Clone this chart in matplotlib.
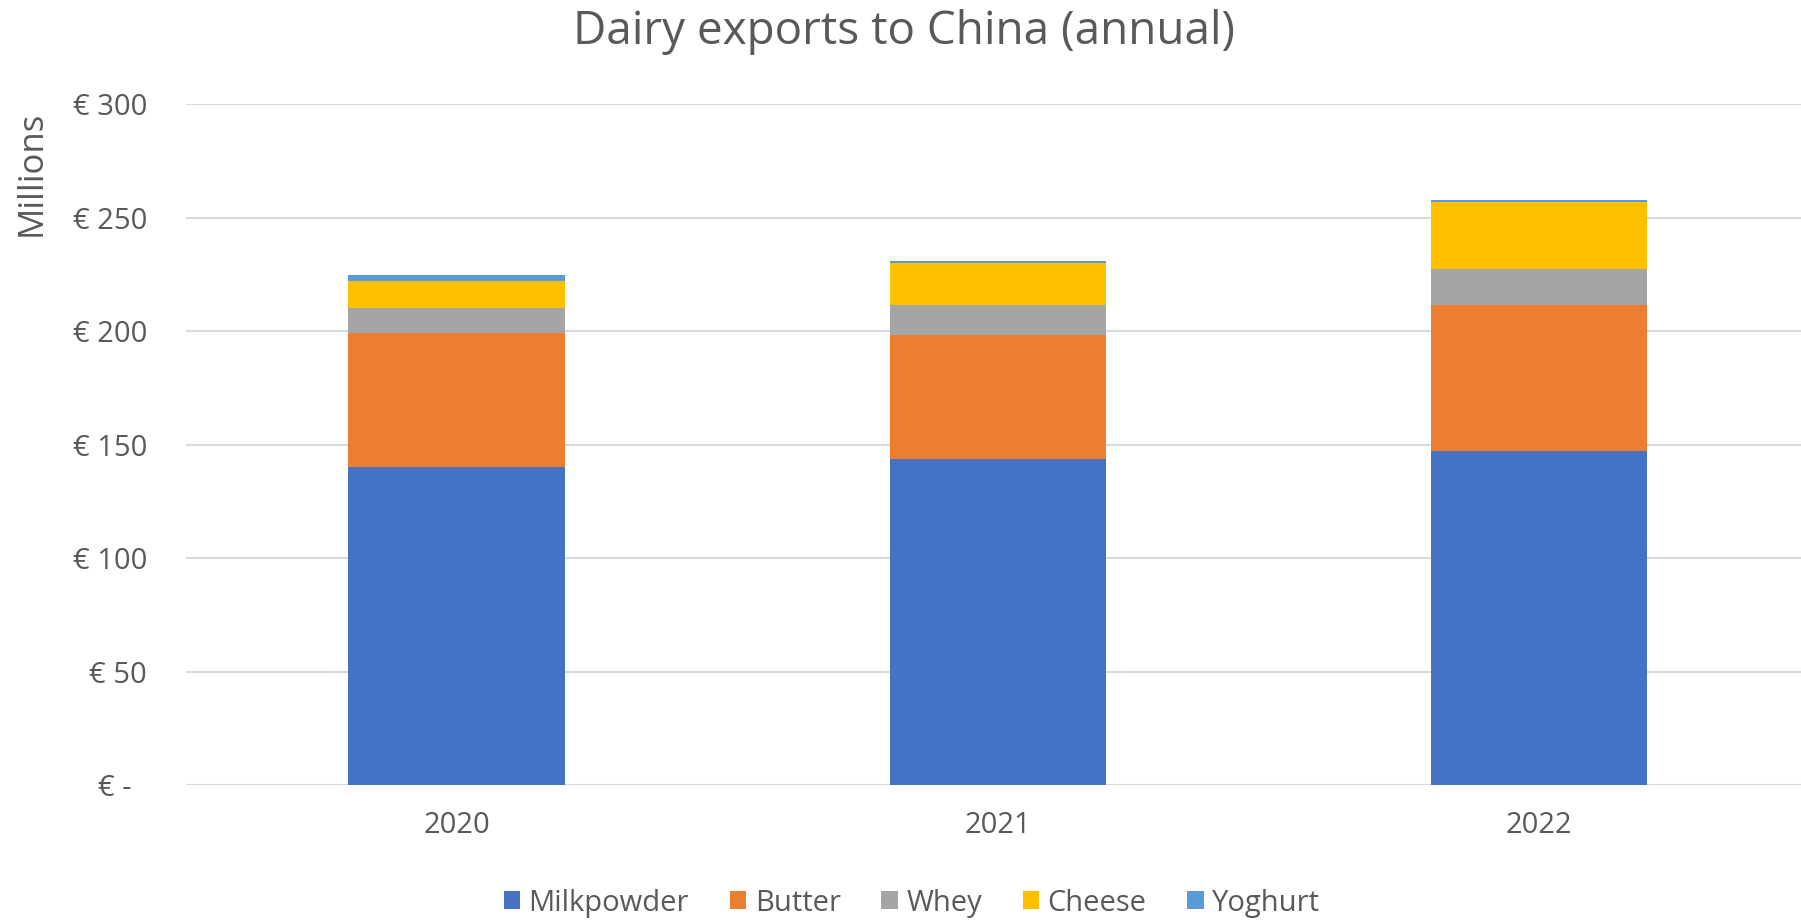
import matplotlib
matplotlib.use("Agg")
import matplotlib.pyplot as plt
import numpy as np

years = ["2020", "2021", "2022"]
series_names = ["Milkpowder", "Butter", "Whey", "Cheese", "Yoghurt"]
milkpowder = [140.3, 143.5, 147.4]
butter = [58.8, 54.7, 64.4]
whey = [11.2, 13.6, 15.8]
cheese = [11.9, 18.2, 29.3]
yoghurt = [2.5, 0.9, 0.9]
colors = ["#4472C4", "#ED7D31", "#A5A5A5", "#FFC000", "#5B9BD5"]
yticks = [0, 50, 100, 150, 200, 250, 300]
ytick_labels = ["€ -  ", "€ 50", "€ 100", "€ 150", "€ 200", "€ 250", "€ 300"]

plt.rcParams['font.family'] = ['Open Sans', 'DejaVu Sans']
txt = "#595959"

fig = plt.figure(figsize=(18.01, 9.22), dpi=100)
W, H = 1801, 922
left, right, bottom, top = 186, 1809.5, 785, 104.5
ax = fig.add_axes([left / W, (H - bottom) / H, (right - left) / W, (bottom - top) / H])

x = np.arange(len(years))
base = np.zeros(len(years))
for name, vals, c in zip(series_names, [milkpowder, butter, whey, cheese, yoghurt], colors):
    ax.bar(x, vals, width=0.4, bottom=base, color=c, label=name, zorder=3)
    base += np.array(vals)

ax.set_xlim(-0.5, 2.5)
ax.set_ylim(0, 300)
ax.set_yticks(yticks)
ax.set_yticklabels(ytick_labels)
ax.set_xticks(x)
ax.set_xticklabels(years)
ax.tick_params(axis='both', length=0, labelsize=21, colors=txt)
ax.tick_params(axis='y', pad=28)
ax.tick_params(axis='x', pad=19)
ax.grid(axis='y', color='#D9D9D9', linewidth=1.5, zorder=0)
for s in ax.spines.values():
    s.set_visible(False)

fig.text(904 / W, 1 - 32 / H, "Dairy exports to China (annual)", ha='center', va='center',
         fontsize=33, color=txt)
fig.text(32 / W, 1 - 173 / H, "Millions", ha='center', va='center', rotation=90,
         fontsize=25, color=txt)

handles, labels = ax.get_legend_handles_labels()
fig.legend(handles, labels, loc='center', bbox_to_anchor=(912 / W, 1 - 903 / H), ncol=5,
           frameon=False, fontsize=21, labelcolor=txt, handlelength=0.55, handleheight=0.55,
           handletextpad=0.3, columnspacing=1.4)

fig.savefig("out.png", dpi=100)
